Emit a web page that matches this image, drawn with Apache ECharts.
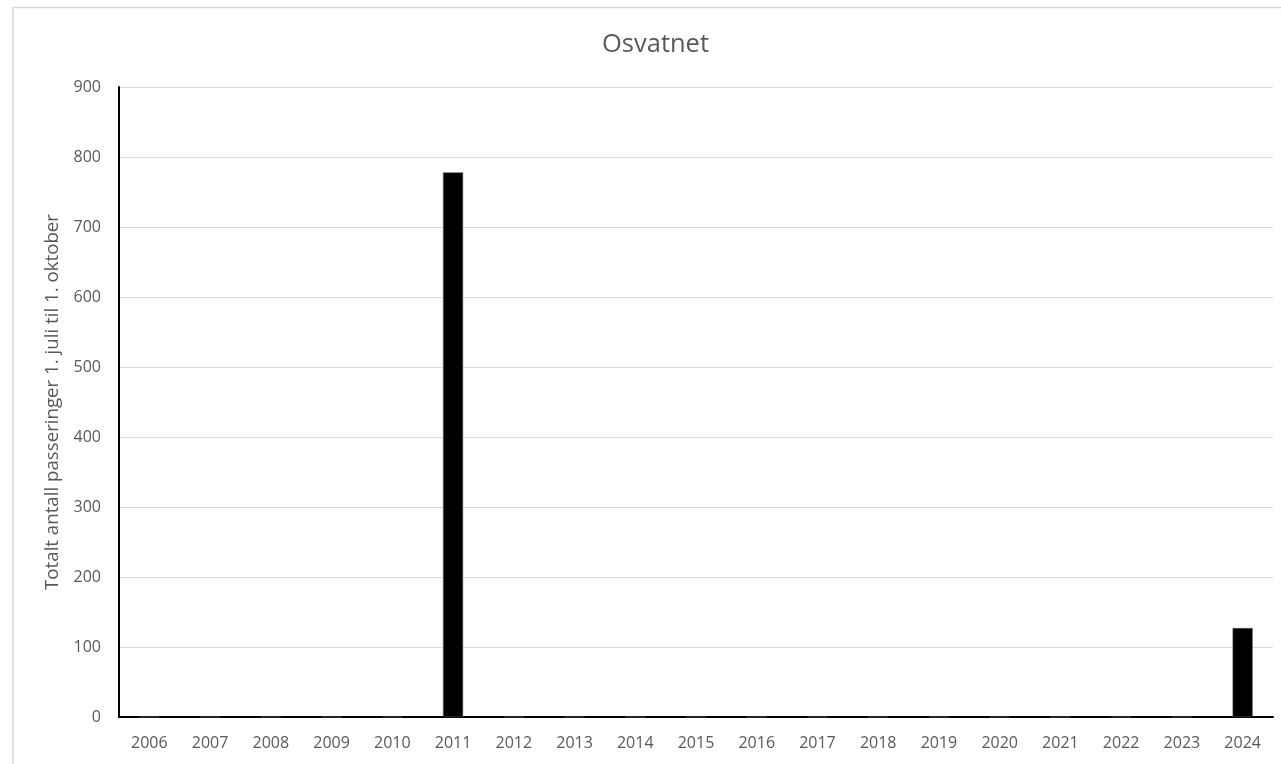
<!DOCTYPE html>
<html>
<head>
<meta charset="utf-8">
<script src="https://cdn.jsdelivr.net/npm/echarts@6/dist/echarts.min.js"></script>
<style>
html,body{margin:0;padding:0;background:#fff;}
#chart{width:1281px;height:764px;}
</style>
</head>
<body>
<div id="chart"></div>
<script>
const chartTitle = "Osvatnet";
const yAxisName = "Totalt antall passeringer 1. juli til 1. oktober";
const years = ["2006","2007","2008","2009","2010","2011","2012","2013","2014","2015","2016","2017","2018","2019","2020","2021","2022","2023","2024"];
const passes = [0,0,0,0,0,778,0,0,0,0,0,0,0,0,0,0,0,0,127];
const yMin = 0, yMax = 900, yStep = 100;

const chart = echarts.init(document.getElementById('chart'));
const font = "'Open Sans', 'Liberation Sans', sans-serif";
chart.setOption({
  animation: false,
  backgroundColor: '#fff',
  graphic: [{
    type: 'rect', silent: true, z: -10,
    shape: {x: 13, y: 7.5, width: 1400, height: 900},
    style: {fill: 'none', stroke: '#d9d9d9', lineWidth: 1.5}
  }],
  title: {
    text: chartTitle, left: 597, top: 27,
    textStyle: {fontFamily: font, fontSize: 25.5, fontWeight: 'normal', color: '#595959'}
  },
  grid: {left: 119, right: 8, top: 87, bottom: 47},
  xAxis: {
    type: 'category', data: years,
    axisLine: {lineStyle: {color: '#000', width: 2}},
    axisTick: {show: false},
    axisLabel: {fontFamily: font, fontSize: 16, color: '#595959', margin: 18}
  },
  yAxis: {
    type: 'value', min: yMin, max: yMax, interval: yStep,
    name: yAxisName, nameLocation: 'middle', nameGap: 49, nameRotate: 90,
    nameTextStyle: {fontFamily: font, fontSize: 18.7, color: '#595959'},
    axisLine: {show: true, lineStyle: {color: '#000', width: 2}},
    axisTick: {show: false},
    splitLine: {lineStyle: {color: '#d9d9d9', width: 1}},
    axisLabel: {fontFamily: font, fontSize: 16, color: '#595959', margin: 18}
  },
  series: [{
    type: 'bar', data: passes, barWidth: '33%',
    itemStyle: {color: '#000', borderColor: '#595959', borderWidth: 0.5}
  }]
});
</script>
</body>
</html>
